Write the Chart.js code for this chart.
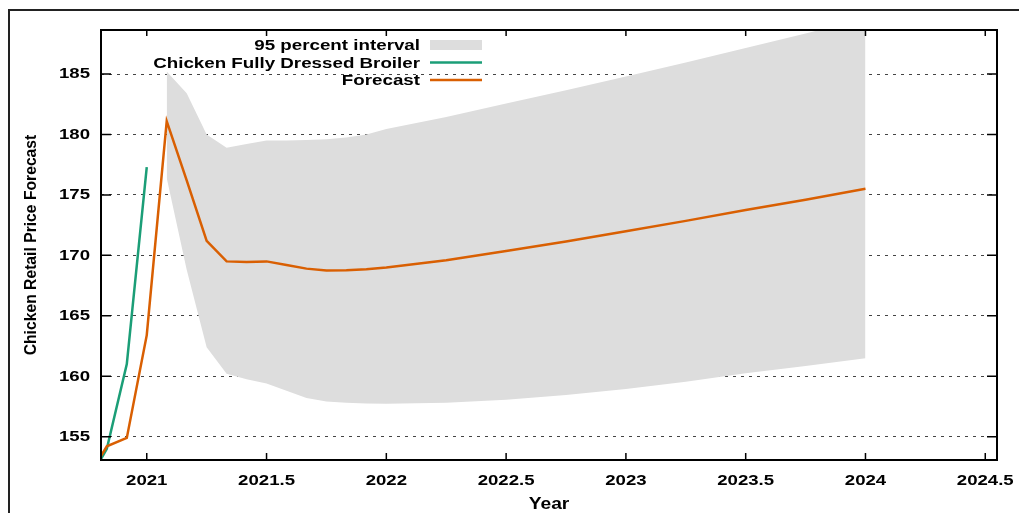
<!DOCTYPE html>
<html><head><meta charset="utf-8">
<script src="https://cdn.jsdelivr.net/npm/chart.js@4.4.1/dist/chart.umd.min.js"></script>
<style>html,body{margin:0;padding:0;background:#fff;overflow:hidden}canvas{display:block}</style>
</head><body>
<canvas id="c" width="1019" height="513"></canvas>
<script>
// ---- data ----
const forecastX = [2020.75, 2020.8333, 2020.9167, 2021.0, 2021.0833, 2021.1667, 2021.25, 2021.3333, 2021.4167, 2021.5, 2021.5833, 2021.6667, 2021.75, 2021.8333, 2021.9167, 2022.0, 2022.25, 2022.5, 2022.75, 2023.0, 2023.25, 2023.5, 2023.75, 2024.0];
const forecastY = [151.5, 154.2, 154.9, 163.4, 181.1, 176.2, 171.2, 169.5, 169.45, 169.5, 169.2, 168.9, 168.75, 168.76, 168.85, 169.0, 169.6, 170.35, 171.15, 172.0, 172.85, 173.75, 174.6, 175.5];
const actualX = [2020.75, 2020.8333, 2020.9167, 2021.0];
const actualY = [151.1, 154.0, 161.0, 177.3];
const bandX = [2021.0833, 2021.1667, 2021.25, 2021.3333, 2021.4167, 2021.5, 2021.5833, 2021.6667, 2021.75, 2021.8333, 2021.9167, 2022.0, 2022.25, 2022.5, 2022.75, 2023.0, 2023.25, 2023.5, 2023.75, 2024.0];
const bandUpper = [185.2, 183.4, 180.0, 178.9, 179.2, 179.5, 179.5, 179.55, 179.6, 179.75, 180.0, 180.45, 181.45, 182.55, 183.65, 184.8, 185.95, 187.15, 188.35, 189.6];
const bandLower = [176.4, 168.8, 162.4, 160.2, 159.75, 159.4, 158.8, 158.2, 157.9, 157.8, 157.75, 157.72, 157.8, 158.05, 158.45, 158.95, 159.55, 160.25, 160.85, 161.48];
const xTicks = [2021, 2021.5, 2022, 2022.5, 2023, 2023.5, 2024, 2024.5];
const yTicks = [155, 160, 165, 170, 175, 180, 185];
const seriesNames = ['95 percent interval', 'Chicken Fully Dressed Broiler', 'Forecast'];
const xTitle = 'Year';
const yTitle = 'Chicken Retail Price Forecast';

const pts = (xs, ys) => xs.map((x, i) => ({x: x, y: ys[i]}));
const FONT = 'Liberation Sans';
const GREEN = '#1b9e77', ORANGE = '#d95f02', BAND = '#dddddd';

// the reference's horizontal text is drawn with horizontally widened glyphs
const origFill = CanvasRenderingContext2D.prototype.fillText;
function stretchedFill(text, x, y, maxWidth) {
  const sx = this.__stretch || 1;
  const m = this.getTransform();
  if (sx === 1 || Math.abs(m.b) > 1e-6) return origFill.call(this, text, x, y);
  this.save();
  this.translate(x, y);
  this.scale(sx, 1);
  origFill.call(this, text, 0, 0);
  this.restore();
}
const stretch = {
  id: 'stretch',
  beforeDraw(chart) { chart.ctx.fillText = stretchedFill; chart.ctx.__stretch = 1.2; }
};

const gnuplotFrame = {
  id: 'gnuplotFrame',
  afterDraw(chart) {
    const {ctx, chartArea: a, scales: {x, y}} = chart;
    ctx.save();
    ctx.strokeStyle = '#000';
    ctx.lineWidth = 1.5;
    ctx.beginPath();
    y.ticks.forEach(t => {
      const py = y.getPixelForValue(t.value);
      ctx.moveTo(a.left, py); ctx.lineTo(a.left + 10, py);
      ctx.moveTo(a.right - 10, py); ctx.lineTo(a.right, py);
    });
    x.ticks.forEach(t => {
      const px = x.getPixelForValue(t.value);
      ctx.moveTo(px, a.bottom); ctx.lineTo(px, a.bottom - 7);
      ctx.moveTo(px, a.top); ctx.lineTo(px, a.top + 6);
    });
    ctx.stroke();
    ctx.lineWidth = 2;
    ctx.strokeRect(a.left, a.top, a.right - a.left, a.bottom - a.top);
    // outer page frame
    ctx.fillStyle = '#222';
    ctx.fillRect(8, 9, 1011, 2);
    ctx.fillRect(8, 9, 2, 504);
    // legend (gnuplot style: text right-aligned, sample on the right)
    const ds = chart.data.datasets;
    const items = [ds[1], ds[2], ds[3]];
    ctx.font = 'bold 15.5px "' + FONT + '"';
    ctx.__stretch = 1.21;
    ctx.textAlign = 'right';
    ctx.textBaseline = 'middle';
    const tx = 420, sx0 = 430, sx1 = 482;
    const rows = [44.5, 62.5, 80];
    items.forEach((d, i) => {
      const cy = rows[i];
      ctx.fillStyle = '#000';
      ctx.fillText(d.label, tx, cy + 1);
      if (i === 0) {
        ctx.fillStyle = d.backgroundColor;
        ctx.fillRect(sx0, cy - 4.5, sx1 - sx0, 10);
      } else {
        ctx.strokeStyle = d.borderColor;
        ctx.lineWidth = 2.5;
        ctx.beginPath(); ctx.moveTo(sx0, cy); ctx.lineTo(sx1, cy); ctx.stroke();
      }
    });
    ctx.restore();
  }
};

const tickFont = {family: FONT, weight: 'bold', size: 15.5};

new Chart(document.getElementById('c'), {
  type: 'line',
  data: {
    datasets: [
      {label: 'lower', data: pts(bandX, bandLower), borderColor: 'rgba(0,0,0,0)', borderWidth: 0, pointRadius: 0, fill: false, order: 3},
      {label: seriesNames[0], data: pts(bandX, bandUpper), borderColor: 'rgba(0,0,0,0)', borderWidth: 0, pointRadius: 0, fill: '-1', backgroundColor: BAND, order: 2},
      {label: seriesNames[1], data: pts(actualX, actualY), borderColor: GREEN, borderWidth: 2.5, pointRadius: 0, fill: false, tension: 0, order: 1, clip: 0},
      {label: seriesNames[2], data: pts(forecastX, forecastY), borderColor: ORANGE, borderWidth: 2.5, pointRadius: 0, fill: false, tension: 0, order: 0, clip: 0}
    ]
  },
  options: {
    responsive: false,
    animation: false,
    devicePixelRatio: 1,
    layout: {padding: {left: 0, right: 22, top: 30, bottom: 0}},
    plugins: {legend: {display: false}, tooltip: {enabled: false}},
    scales: {
      x: {
        type: 'linear', min: 2020.809, max: 2024.549,
        afterBuildTicks: s => { s.ticks = xTicks.map(v => ({value: v})); },
        afterFit: s => { s.height = 53; },
        ticks: {callback: v => String(v), font: tickFont, color: '#000', padding: 3, maxRotation: 0, autoSkip: false},
        grid: {display: false},
        border: {display: false},
        title: {display: true, text: xTitle, color: '#000', font: {family: FONT, weight: 'bold', size: 16, lineHeight: 1.1}, padding: {top: 0, bottom: 0}}
      },
      y: {
        type: 'linear', min: 153.07, max: 188.64,
        afterBuildTicks: s => { s.ticks = yTicks.map(v => ({value: v})); },
        afterFit: s => { s.width = 101; },
        ticks: {callback: v => String(v), font: tickFont, color: '#000', padding: 11, autoSkip: false},
        grid: {color: '#444', lineWidth: 1, drawTicks: false},
        border: {display: false, dash: [3, 5]},
        title: {display: true, text: yTitle, color: '#000', font: {family: FONT, weight: 'bold', size: 15.7}, padding: {top: 22.5, bottom: 0}}
      }
    }
  },
  plugins: [stretch, gnuplotFrame]
});
</script>
</body></html>
